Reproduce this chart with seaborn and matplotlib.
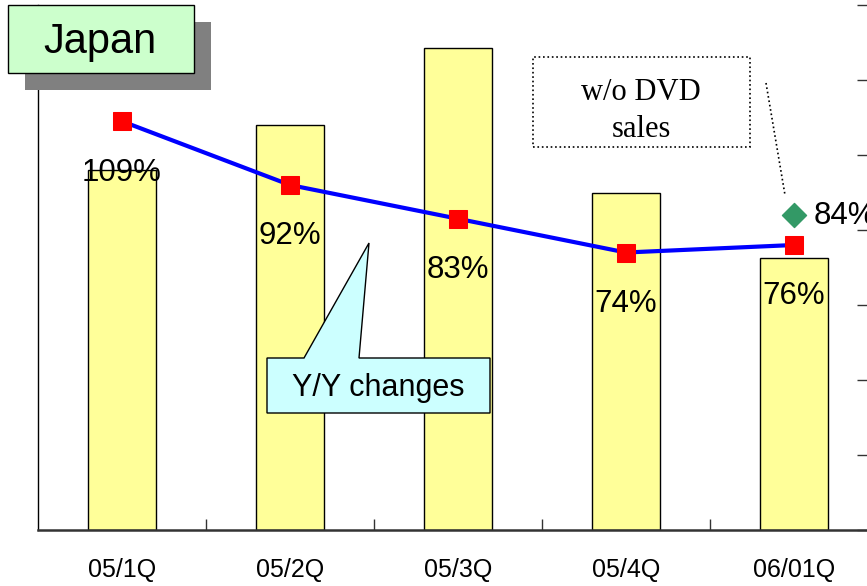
import numpy as np
import matplotlib
matplotlib.use("Agg")
import matplotlib.pyplot as plt
from matplotlib.patches import Rectangle, Polygon
from matplotlib.lines import Line2D
import seaborn as sns
from matplotlib import font_manager

quarters = ["05/1Q", "05/2Q", "05/3Q", "05/4Q", "06/01Q"]
sales = [96, 108, 128.5, 90, 72.5]          # bar heights (no scale shown)
yoy = [109, 92, 83, 74, 76]                  # Y/Y changes, %
wo_dvd_pos = 4
wo_dvd = 84                                  # w/o DVD sales, %

sns.set_style("white")
names = {f.name for f in font_manager.fontManager.ttflist}
narrow = "Liberation Sans Narrow" if "Liberation Sans Narrow" in names else "Liberation Sans"
pct_size = 25 if narrow == "Liberation Sans Narrow" else 22.5
plt.rcParams["font.family"] = ["Liberation Sans", "DejaVu Sans"]
plt.rcParams["text.color"] = "black"
plt.rcParams["xtick.color"] = "black"
plt.rcParams["ytick.color"] = "black"

W, H = 867, 586
fig = plt.figure(figsize=(W / 100, H / 100), dpi=100)


def fx(px):
    return px / W


def fy(py):
    return 1 - py / H


ax = fig.add_axes([fx(38), fy(530), fx(867) - fx(38), fy(5) - fy(530)])
sns.barplot(x=quarters, y=sales, ax=ax, color="#FFFF99", edgecolor="black",
            linewidth=1, width=0.4, saturation=1)
ax.set_ylim(0, 140)
ax.set_xlim(-0.5, 4.435)
ax.set_yticks([])
ax.set_xlabel("")
ax.set_ylabel("")
ax.set_xticks(range(len(quarters)))
ax.set_xticklabels(quarters, fontsize=18, color="black")
ax.set_xticks([0.5, 1.5, 2.5, 3.5], minor=True)
ax.tick_params(axis="x", which="major", length=0, pad=20)
ax.tick_params(axis="x", which="minor", direction="in", length=8, width=1, color="#333333", bottom=True)
for s in ["top", "right"]:
    ax.spines[s].set_visible(False)
ax.spines["left"].set_color("black")
ax.spines["left"].set_linewidth(1)
ax.spines["bottom"].set_color("#333333")
ax.spines["bottom"].set_linewidth(1.8)

ax2 = ax.twinx()
x = np.arange(len(yoy))
sns.lineplot(x=x, y=yoy, ax=ax2, color="#0000FF", linewidth=3, marker="s",
             markersize=13.5, markerfacecolor="#FF0000", markeredgecolor="#FF0000",
             zorder=3)
ax2.scatter([wo_dvd_pos], [wo_dvd], marker="D", s=150, color="#339966", zorder=4)
ax2.set_ylim(0, 140)
ax2.set_xlim(-0.5, 4.435)
ax2.set_yticks(range(0, 141, 20))
ax2.set_yticklabels([])
ax2.set_ylabel("")
ax2.tick_params(axis="y", direction="in", length=7, width=1, color="#333333", right=True)
for s in ["top", "right", "left", "bottom"]:
    ax2.spines[s].set_visible(False)

for xi, v in zip(x, yoy):
    ax2.annotate(f"{v}%", (xi, v), xytext=(0, -37), textcoords="offset points",
                 ha="center", va="center", fontsize=pct_size, color="black",
                 family=[narrow, "DejaVu Sans"], zorder=5)
ax2.annotate(f"{wo_dvd}%", (wo_dvd_pos, wo_dvd), xytext=(14, -1), textcoords="offset points",
             ha="left", va="center", fontsize=pct_size, color="black",
             family=[narrow, "DejaVu Sans"], zorder=5)

# Japan title box with shadow
fig.patches.append(Rectangle((fx(25), fy(90)), fx(211) - fx(25), fy(22) - fy(90),
                             transform=fig.transFigure, facecolor="#808080", edgecolor="none", zorder=5))
fig.patches.append(Rectangle((fx(8), fy(73)), fx(194) - fx(8), fy(5) - fy(73),
                             transform=fig.transFigure, facecolor="#CCFFCC", edgecolor="black",
                             linewidth=1, zorder=6))
fig.text(fx(100), fy(42), "Japan", ha="center", va="center", fontsize=30, zorder=7)

# Y/Y changes callout
pts = [(267, 358), (304, 358), (369, 243), (359, 358), (490, 358), (490, 413), (267, 413)]
fig.patches.append(Polygon([(fx(a), fy(b)) for a, b in pts], closed=True, transform=fig.transFigure,
                           facecolor="#CCFFFF", edgecolor="black", linewidth=1, zorder=5))
fig.text(fx(378), fy(388), "Y/Y changes", ha="center", va="center", fontsize=22, zorder=7)

# w/o DVD sales note
fig.patches.append(Rectangle((fx(533), fy(147)), fx(750) - fx(533), fy(57) - fy(147),
                             transform=fig.transFigure, facecolor="white", edgecolor="black",
                             linewidth=1.2, linestyle=":", zorder=5))
fig.text(fx(641), fy(100), "w/o DVD", ha="center", va="baseline", fontsize=22,
         family=["Liberation Serif", "DejaVu Serif"], zorder=7)
fig.text(fx(641), fy(137), "sales", ha="center", va="baseline", fontsize=22,
         family=["Liberation Serif", "DejaVu Serif"], zorder=7)
fig.lines.append(Line2D([fx(766), fx(785)], [fy(83), fy(195)], transform=fig.transFigure,
                        color="black", linewidth=1.2, linestyle=":", zorder=5))

fig.savefig("out.png", dpi=100)
